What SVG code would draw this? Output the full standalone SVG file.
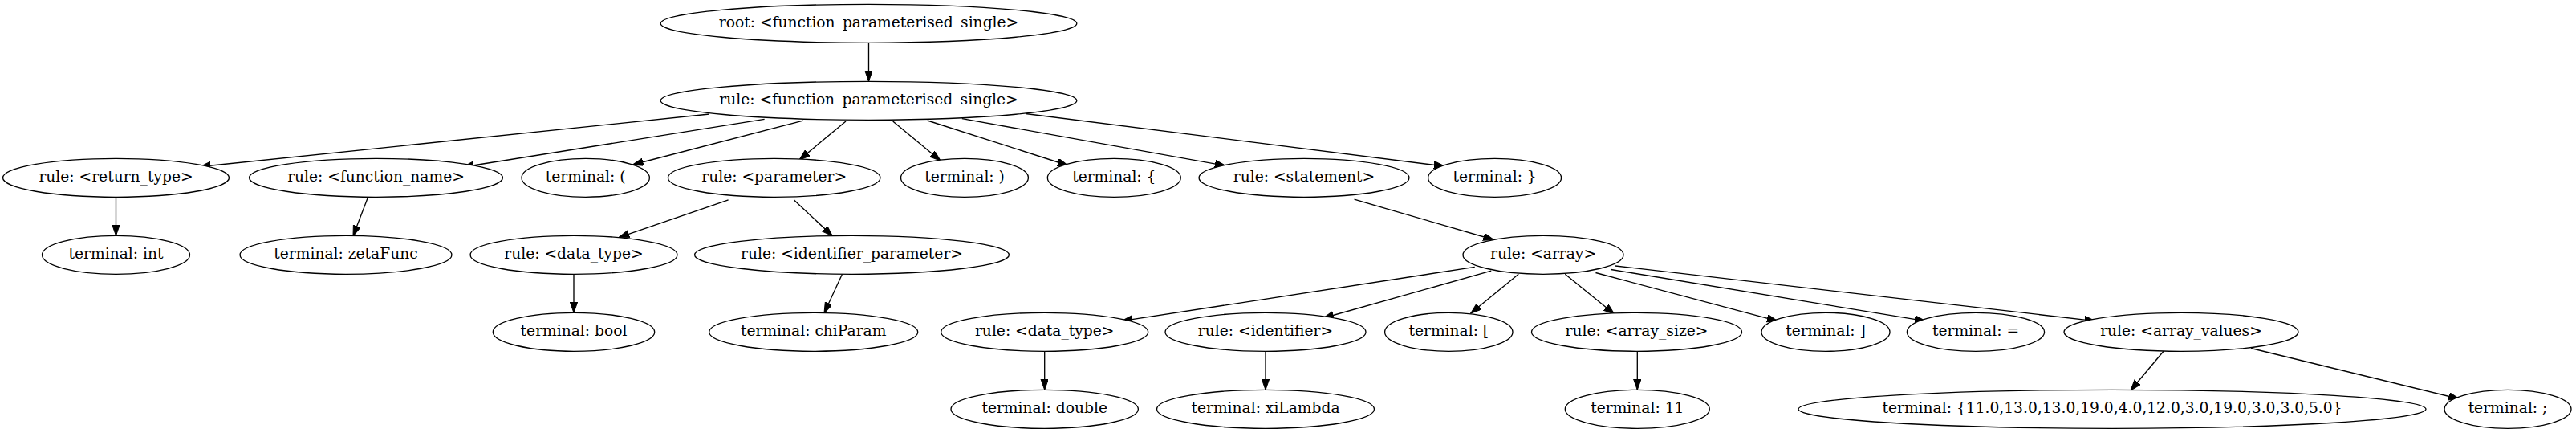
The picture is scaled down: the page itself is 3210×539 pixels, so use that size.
<svg xmlns="http://www.w3.org/2000/svg" width="3210" height="539" viewBox="0 0 3210 539">
<defs>
<style>
.n ellipse{fill:#fff;stroke:#000;stroke-width:1.33}
.n text{font-family:"DejaVu Serif","Liberation Serif",serif;font-size:18.67px;text-anchor:middle;fill:#000}
#edges line{stroke:#000;stroke-width:1.33;marker-end:url(#ah)}
</style>
<marker id="ah" markerUnits="userSpaceOnUse" markerWidth="14" markerHeight="10" refX="13.3" refY="4.67" orient="auto" viewBox="0 0 14 10">
<path d="M0,0 L13.3,4.67 L0,9.34 Z" fill="#000" stroke="#000" stroke-width="1"/>
</marker>
</defs>
<rect width="3210" height="539" fill="#fff"/>
<g id="edges">
<line x1="1082.5" y1="53.3" x2="1082.5" y2="101.3"/>
<line x1="884" y1="142" x2="249" y2="207.5"/>
<line x1="952.6" y1="148.4" x2="576.6" y2="208"/>
<line x1="1000.8" y1="150.1" x2="788.3" y2="205"/>
<line x1="1054" y1="151" x2="996" y2="199"/>
<line x1="1112.7" y1="151" x2="1172" y2="200"/>
<line x1="1155.7" y1="150" x2="1331" y2="206"/>
<line x1="1198.8" y1="147.7" x2="1527.2" y2="206.3"/>
<line x1="1278" y1="141.5" x2="1800.2" y2="207"/>
<line x1="144.5" y1="245.3" x2="144.5" y2="293.3"/>
<line x1="458.6" y1="245.3" x2="440" y2="293.8"/>
<line x1="907.6" y1="248.9" x2="771" y2="295.6"/>
<line x1="989.5" y1="249" x2="1037.3" y2="293.6"/>
<line x1="1687.6" y1="248.2" x2="1861.6" y2="298.5"/>
<line x1="715" y1="341.3" x2="715" y2="389.3"/>
<line x1="1049.5" y1="341.3" x2="1027" y2="389.8"/>
<line x1="1837.7" y1="332.4" x2="1397.6" y2="399.6"/>
<line x1="1858.2" y1="337.2" x2="1648.7" y2="396"/>
<line x1="1892.3" y1="341.3" x2="1832.7" y2="390"/>
<line x1="1950.3" y1="341.3" x2="2011.7" y2="391"/>
<line x1="1988.4" y1="339.5" x2="2215" y2="399.6"/>
<line x1="2007.5" y1="335.5" x2="2399.3" y2="399.6"/>
<line x1="2013" y1="331" x2="2610.9" y2="399.6"/>
<line x1="1301.7" y1="437.3" x2="1301.7" y2="485.3"/>
<line x1="1577" y1="437.3" x2="1577" y2="485.3"/>
<line x1="2040.3" y1="437.3" x2="2040.3" y2="485.3"/>
<line x1="2696" y1="437.3" x2="2655" y2="486"/>
<line x1="2805" y1="433.5" x2="3064.6" y2="496.5"/>
</g>
<g id="root" class="n"><ellipse cx="1082.5" cy="29.3" rx="259.3" ry="24"/><text x="1082.5" y="34.4">root: &lt;function_parameterised_single&gt;</text></g>
<g id="fps" class="n"><ellipse cx="1082.5" cy="125.3" rx="259.3" ry="24"/><text x="1082.5" y="130.4">rule: &lt;function_parameterised_single&gt;</text></g>
<g id="return_type" class="n"><ellipse cx="144.5" cy="221.3" rx="141" ry="24"/><text x="144.5" y="226.4">rule: &lt;return_type&gt;</text></g>
<g id="function_name" class="n"><ellipse cx="468.5" cy="221.3" rx="158" ry="24"/><text x="468.5" y="226.4">rule: &lt;function_name&gt;</text></g>
<g id="t_lparen" class="n"><ellipse cx="729.7" cy="221.3" rx="79.7" ry="24"/><text x="729.7" y="226.4">terminal: (</text></g>
<g id="parameter" class="n"><ellipse cx="964.7" cy="221.3" rx="132.3" ry="24"/><text x="964.7" y="226.4">rule: &lt;parameter&gt;</text></g>
<g id="t_rparen" class="n"><ellipse cx="1202" cy="221.3" rx="79.5" ry="24"/><text x="1202" y="226.4">terminal: )</text></g>
<g id="t_lbrace" class="n"><ellipse cx="1388.3" cy="221.3" rx="83" ry="24"/><text x="1388.3" y="226.4">terminal: {</text></g>
<g id="statement" class="n"><ellipse cx="1625" cy="221.3" rx="131" ry="24"/><text x="1625" y="226.4">rule: &lt;statement&gt;</text></g>
<g id="t_rbrace" class="n"><ellipse cx="1862.6" cy="221.3" rx="83" ry="24"/><text x="1862.6" y="226.4">terminal: }</text></g>
<g id="t_int" class="n"><ellipse cx="144.5" cy="317.3" rx="92" ry="24"/><text x="144.5" y="322.4">terminal: int</text></g>
<g id="t_zetaFunc" class="n"><ellipse cx="431" cy="317.3" rx="132" ry="24"/><text x="431" y="322.4">terminal: zetaFunc</text></g>
<g id="data_type1" class="n"><ellipse cx="715" cy="317.3" rx="129" ry="24"/><text x="715" y="322.4">rule: &lt;data_type&gt;</text></g>
<g id="identifier_parameter" class="n"><ellipse cx="1061.5" cy="317.3" rx="196" ry="24"/><text x="1061.5" y="322.4">rule: &lt;identifier_parameter&gt;</text></g>
<g id="array" class="n"><ellipse cx="1923" cy="317.3" rx="100" ry="24"/><text x="1923" y="322.4">rule: &lt;array&gt;</text></g>
<g id="t_bool" class="n"><ellipse cx="715" cy="413.3" rx="100.7" ry="24"/><text x="715" y="418.4">terminal: bool</text></g>
<g id="t_chiParam" class="n"><ellipse cx="1013.7" cy="413.3" rx="130" ry="24"/><text x="1013.7" y="418.4">terminal: chiParam</text></g>
<g id="data_type2" class="n"><ellipse cx="1301.7" cy="413.3" rx="129" ry="24"/><text x="1301.7" y="418.4">rule: &lt;data_type&gt;</text></g>
<g id="identifier" class="n"><ellipse cx="1577" cy="413.3" rx="125" ry="24"/><text x="1577" y="418.4">rule: &lt;identifier&gt;</text></g>
<g id="t_lbracket" class="n"><ellipse cx="1805.3" cy="413.3" rx="79.7" ry="24"/><text x="1805.3" y="418.4">terminal: [</text></g>
<g id="array_size" class="n"><ellipse cx="2039.5" cy="413.3" rx="131" ry="24"/><text x="2039.5" y="418.4">rule: &lt;array_size&gt;</text></g>
<g id="t_rbracket" class="n"><ellipse cx="2275" cy="413.3" rx="80" ry="24"/><text x="2275" y="418.4">terminal: ]</text></g>
<g id="t_eq" class="n"><ellipse cx="2462" cy="413.3" rx="85.6" ry="24"/><text x="2462" y="418.4">terminal: =</text></g>
<g id="array_values" class="n"><ellipse cx="2718" cy="413.3" rx="146" ry="24"/><text x="2718" y="418.4">rule: &lt;array_values&gt;</text></g>
<g id="t_double" class="n"><ellipse cx="1301.7" cy="509.3" rx="116.7" ry="24"/><text x="1301.7" y="514.4">terminal: double</text></g>
<g id="t_xiLambda" class="n"><ellipse cx="1577" cy="509.3" rx="135.5" ry="24"/><text x="1577" y="514.4">terminal: xiLambda</text></g>
<g id="t_11" class="n"><ellipse cx="2040.3" cy="509.3" rx="90" ry="24"/><text x="2040.3" y="514.4">terminal: 11</text></g>
<g id="t_values" class="n"><ellipse cx="2632" cy="509.3" rx="391" ry="24"/><text x="2632" y="514.4">terminal: {11.0,13.0,13.0,19.0,4.0,12.0,3.0,19.0,3.0,3.0,5.0}</text></g>
<g id="t_semicolon" class="n"><ellipse cx="3125" cy="509.3" rx="79" ry="24"/><text x="3125" y="514.4">terminal: ;</text></g>
</svg>
